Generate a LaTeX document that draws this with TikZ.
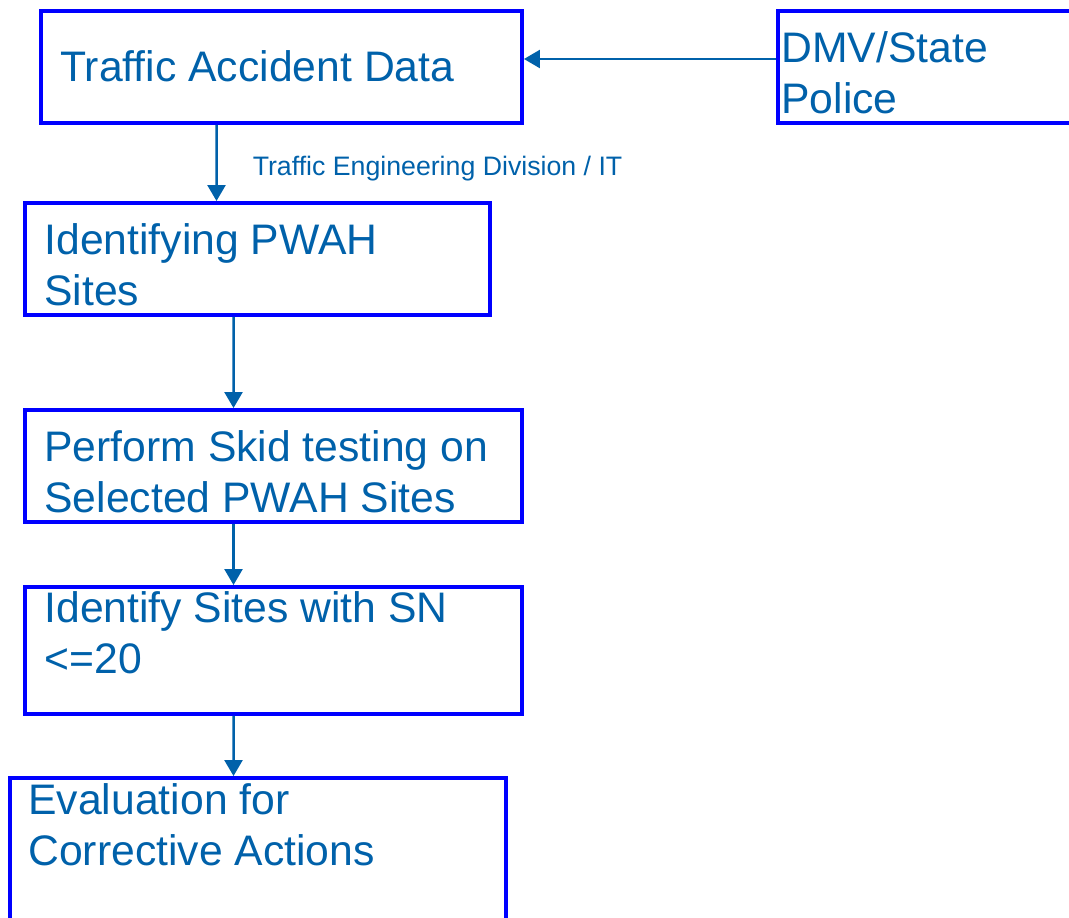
\documentclass[tikz,border=0pt]{standalone}
\usepackage{fontspec}
\setmainfont{Liberation Sans}
\usepackage{xcolor}
\usetikzlibrary{positioning,arrows.meta}
\definecolor{boxblue}{RGB}{0,0,255}
\definecolor{textblue}{RGB}{0,97,170}

\begin{document}
\begin{tikzpicture}[x=0.02cm, y=-0.02cm,
            box/.style = {draw=boxblue, line width=0.08cm, minimum height=2.24cm, inner sep=0},
            boxtext/.style = {anchor=base west, inner sep=0, align=left, text=textblue,
                font=\fontsize{24.3}{28.5}\selectfont},
            flow/.style = {draw=textblue, line width=0.05cm, -{Triangle[length=0.32cm,width=0.36cm]}}]
            \clip (0,0) rectangle (1069,917);
            % boxes
            \node[box, minimum width=9.62cm] (tad) at (281.5,67) {};
            \node[box, minimum width=6.24cm] (dmv) at (934,67) {};
            \node[box, minimum width=9.3cm] (pwah) at (257.5,259) {};
            \node[box, minimum width=9.94cm] (skid) at (273.5,466) {};
            \node[box, minimum width=9.94cm, minimum height=2.54cm] (sn) at (273.5,650.5) {};
            \node[box, minimum width=9.92cm, minimum height=3.24cm] (eval) at (258,859) {};
            % texts (base = baseline of the last line)
            \node[boxtext] (tadtext) at ([shift={(21,72)}]tad.north west) {Traffic Accident Data};
            \node[boxtext] (dmvtext) at ([shift={(5,104)}]dmv.north west) {DMV/State\\Police};
            \node[boxtext] (pwahtext) at ([shift={(21,104)}]pwah.north west) {Identifying PWAH\\Sites};
            \node[boxtext] (skidtext) at ([shift={(21,104)}]skid.north west) {Perform Skid testing on\\Selected PWAH Sites};
            \node[boxtext] (sntext) at ([shift={(21,88)}]sn.north west) {Identify Sites with SN\\<=20};
            \node[boxtext] (evaltext) at ([shift={(20,89)}]eval.north west) {Evaluation for\\Corrective Actions};
            % arrows
            \draw[flow] ([yshift=0.16cm]dmv.west) -- ([yshift=0.16cm]tad.east);
            \draw[flow] ([xshift=3.55cm]tad.south west) --
                node[right=0.7cm, yshift=-0.11cm, inner sep=0, text=textblue, font=\fontsize{15.2}{18}\selectfont] (ted)
                {Traffic Engineering Division / IT} ([xshift=3.87cm]pwah.north west);
            \draw[flow] ([xshift=4.21cm]pwah.south west) -- ([xshift=4.21cm]skid.north west);
            \draw[flow] ([xshift=4.21cm]skid.south west) -- ([xshift=4.21cm]sn.north west);
            \draw[flow] ([xshift=4.21cm]sn.south west) -- ([xshift=4.51cm]eval.north west);
        \end{tikzpicture}
\end{document}
